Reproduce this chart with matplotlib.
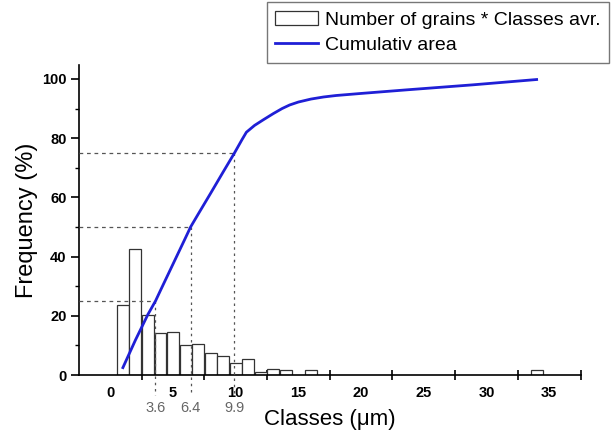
import matplotlib
matplotlib.use("Agg")
import matplotlib.pyplot as plt
from matplotlib.ticker import FixedLocator, NullFormatter
from matplotlib.patches import Patch
from matplotlib.lines import Line2D

plt.rcParams['font.family'] = ['Liberation Sans', 'DejaVu Sans']

# Histogram data
bar_x = [1, 2, 3, 4, 5, 6, 7, 8, 9, 10, 11, 12, 13, 14, 16, 34]
bar_h = [23.6, 42.5, 20.3, 14.1, 14.4, 10.0, 10.4, 7.6, 6.4, 4.2, 5.3, 1.0, 1.9, 1.6, 1.8, 1.8]

# Cumulative area curve
cum_x = [1.0, 2, 3, 3.6, 4, 5, 6, 6.4, 7, 8, 9, 9.9, 10.5, 10.85, 11.5, 12.2, 13, 13.7, 14.3, 15, 16, 17, 18, 20, 23.6, 28.9, 34]
cum_y = [2.5, 11.8, 20.5, 25, 28.6, 37.5, 46.4, 50, 54.3, 61.4, 68.6, 75, 79.5, 82.0, 84.3, 86.2, 88.3, 90.0, 91.2, 92.2, 93.2, 93.9, 94.4, 95.1, 96.3, 98, 99.8]

# Percentile markers
pct_levels = [25, 50, 75]
pct_x = [3.6, 6.4, 9.9]
pct_labels = ["3.6", "6.4", "9.9"]

x_tick_vals = [0, 5, 10, 15, 20, 25, 30, 35]
y_tick_vals = [0, 20, 40, 60, 80, 100]

fig = plt.figure(figsize=(6.13, 4.34), dpi=100)
ax = fig.add_axes([0.1289, 0.1359, 0.8181, 0.7143])

ax.bar(bar_x, bar_h, width=0.95, facecolor='white', edgecolor='#333333', linewidth=0.9, zorder=2)
ax.plot(cum_x, cum_y, color='#1f1fd6', linewidth=2.0, zorder=4)

dash_col = '#555555'
for lvl, xv in zip(pct_levels, pct_x):
    ax.plot([-2.5, xv], [lvl, lvl], color=dash_col, linestyle=(0, (3, 3)), linewidth=0.9, zorder=3)
    ax.plot([xv, xv], [lvl, -6.8], color=dash_col, linestyle=(0, (2, 3)), linewidth=0.9, zorder=3, clip_on=False)

ax.set_xlim(-2.5, 37.5)
ax.set_ylim(0, 104.7)

for s in ['top', 'right']:
    ax.spines[s].set_visible(False)
for s in ['left', 'bottom']:
    ax.spines[s].set_linewidth(1.2)

ax.set_xticks(x_tick_vals)
ax.set_xticklabels([str(v) for v in x_tick_vals], fontweight='bold', fontsize=10.5)
ax.tick_params(axis='x', which='major', length=0, pad=8)
ax.xaxis.set_minor_locator(FixedLocator([2.5 + 5 * k for k in range(8)]))
ax.xaxis.set_minor_formatter(NullFormatter())
ax.tick_params(axis='x', which='minor', direction='inout', length=7, width=1.2)

ax.set_yticks(y_tick_vals)
ax.set_yticklabels([str(v) for v in y_tick_vals], fontweight='bold', fontsize=10.5)
ax.tick_params(axis='y', which='major', direction='out', length=6, width=1.2, pad=3)
ax.yaxis.set_minor_locator(FixedLocator([10, 30, 50, 70, 90]))
ax.tick_params(axis='y', which='minor', direction='out', length=3, width=1.0)

for xv, lab in zip(pct_x, pct_labels):
    ax.text(xv, -11.1, lab, ha='center', va='center', fontsize=10.5, color='#666666')

ax.set_xlabel('Classes (\u03bcm)', fontsize=16)
ax.xaxis.label.set_va('center')
ax.xaxis.set_label_coords(0.5, -0.145)
ax.set_ylabel('Frequency (%)', fontsize=17)
ax.yaxis.label.set_va('center')
ax.yaxis.set_label_coords(-0.103, 0.5)

handles = [Patch(facecolor='white', edgecolor='#333333', linewidth=0.9),
           Line2D([0], [0], color='#1f1fd6', linewidth=2.0)]
leg = fig.legend(handles, ['Number of grains * Classes avr.', 'Cumulativ area'],
                 loc='upper left', bbox_to_anchor=(0.435, 0.995), fontsize=14,
                 frameon=True, fancybox=False, edgecolor='#555555', borderaxespad=0,
                 handlelength=2.2, handletextpad=0.35, labelspacing=0.4, borderpad=0.45)
leg.get_frame().set_linewidth(1.0)

fig.savefig('out.png', dpi=100)
